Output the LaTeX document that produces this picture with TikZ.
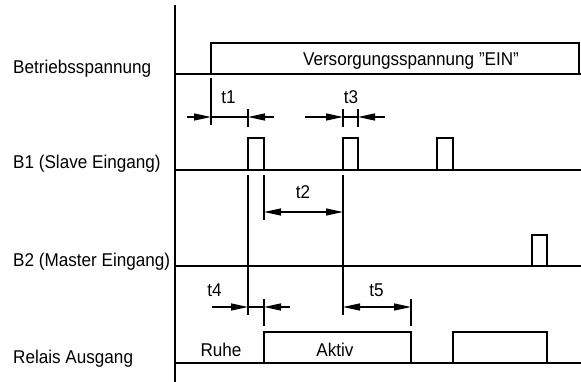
\documentclass[tikz,border=0pt]{standalone}
\usepackage{fontspec}
\setmainfont{Liberation Sans}[FakeStretch=0.925]
\usepackage{tikz}
\usetikzlibrary{arrows.meta}

\begin{document}
\begin{tikzpicture}[x=1pt,y=-1pt,
	sig/.style={line width=1.5pt},
	hilf/.style={line width=1.3pt},
	pf/.style={line width=1.3pt,-{Triangle[length=17pt,width=7pt]}},
	pfpf/.style={line width=1.3pt,{Triangle[length=17pt,width=7pt]}-{Triangle[length=17pt,width=7pt]}},
	txt/.style={inner sep=0pt,font=\fontsize{18.5}{22}\selectfont}]

\useasboundingbox (0,0) rectangle (581,382);

	\draw[sig] (175,5) -- (175,382);% time axis

%	Betriebsspannung
	\draw[sig] (175,74) -- (581,74);% base line
	\draw[sig] (211,74) -- (211,43) -- (579,43) -- (579,74);% supply on
	\node[txt,anchor=base west] (betrieb) at (13,74) {Betriebsspannung};
	\node[txt,anchor=base] (ein) at (411,66) {Versorgungsspannung \symbol{34}EIN\symbol{34}};

%	B1
	\draw[sig] (175,170) -- (581,170);% base line
	\draw[sig] (248,170) -- (248,138) -- (264,138) -- (264,170);% first pulse
	\draw[sig] (343,170) -- (343,138) -- (358,138) -- (358,170);% second pulse
	\draw[sig] (437,170) -- (437,138) -- (453,138) -- (453,170);% third pulse
	\node[txt,anchor=base west] (slave) at (13,169) {B1 (Slave Eingang)};

%	B2
	\draw[sig] (175,266) -- (581,266);% base line
	\draw[sig] (532,266) -- (532,235) -- (547,235) -- (547,266);% pulse
	\node[txt,anchor=base west] (master) at (13,266) {B2 (Master Eingang)};

%	Relais
	\draw[sig] (175,363) -- (581,363);% base line
	\draw[sig] (264,363) -- (264,332) -- (411,332) -- (411,363);% active
	\draw[sig] (453,363) -- (453,332) -- (547,332) -- (547,363);% active again
	\node[txt,anchor=base west] (relais) at (13,363) {Relais Ausgang};
	\node[txt,anchor=base] (ruhe) at (221,356) {Ruhe};
	\node[txt,anchor=base] (aktiv) at (335,356) {Aktiv};

%	extension lines
	\draw[hilf] (211,78) -- (211,125);
	\draw[hilf] (248,109) -- (248,127);
	\draw[hilf] (343,109) -- (343,127);
	\draw[hilf] (358,109) -- (358,127);
	\draw[hilf] (248,175) -- (248,315);
	\draw[hilf] (264,175) -- (264,220);
	\draw[hilf] (343,175) -- (343,315);
	\draw[hilf] (264,299) -- (264,326);
	\draw[hilf] (411,299) -- (411,326);

%	t1
	\draw[pf] (187,117) -- (211,117);
	\draw[hilf] (211,117) -- (248,117);
	\draw[pf] (274,117) -- (248,117);
	\node[txt,anchor=base] (tone) at (228.5,104) {t1};
%	t3
	\draw[pf] (305,117) -- (343,117);
	\draw[hilf] (343,117) -- (358,117);
	\draw[pf] (385,117) -- (358,117);
	\node[txt,anchor=base] (tthree) at (351,104) {t3};
%	t2
	\draw[pfpf] (264,212) -- (343,212);
	\node[txt,anchor=base] (ttwo) at (303,199) {t2};
%	t4
	\draw[pf] (212,307) -- (248,307);
	\draw[hilf] (248,307) -- (264,307);
	\draw[pf] (290,307) -- (264,307);
	\node[txt,anchor=base] (tfour) at (214.5,296) {t4};
%	t5
	\draw[pfpf] (343,307) -- (411,307);
	\node[txt,anchor=base] (tfive) at (376.5,296) {t5};

\end{tikzpicture}
\end{document}
